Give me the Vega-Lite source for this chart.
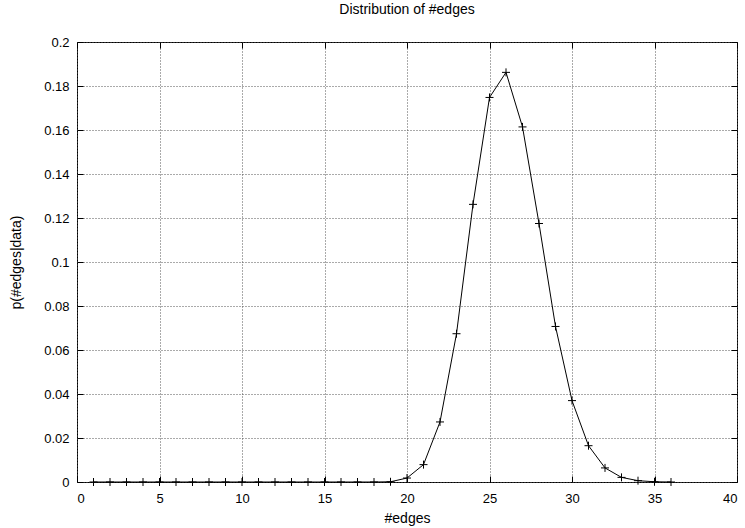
{
  "$schema": "https://vega.github.io/schema/vega-lite/v6.json",
  "width": 660,
  "height": 440,
  "autosize": "none",
  "padding": {"left": 77, "top": 42, "right": 8, "bottom": 46},
  "background": "white",
  "title": {"text": "Distribution of #edges", "fontSize": 14, "fontWeight": "normal", "font": "Liberation Sans", "color": "black", "offset": 19, "anchor": "middle"},
  "config": {
    "view": {"stroke": "black", "strokeWidth": 1},
    "axis": {"labelFont": "Liberation Sans", "titleFont": "Liberation Sans", "labelFontSize": 13, "titleFontSize": 14, "titleFontWeight": "normal", "labelColor": "black", "titleColor": "black", "tickColor": "black", "domain": false, "gridColor": "#555", "gridDash": [1, 2], "gridWidth": 1, "gridOpacity": 1, "tickSize": -6, "tickWidth": 1}
  },
  "data": {"values": [
    {"x": 1, "p": 0}, {"x": 2, "p": 0}, {"x": 3, "p": 0}, {"x": 4, "p": 0}, {"x": 5, "p": 0},
    {"x": 6, "p": 0}, {"x": 7, "p": 0}, {"x": 8, "p": 0}, {"x": 9, "p": 0}, {"x": 10, "p": 0},
    {"x": 11, "p": 0}, {"x": 12, "p": 0}, {"x": 13, "p": 0}, {"x": 14, "p": 0}, {"x": 15, "p": 0},
    {"x": 16, "p": 0}, {"x": 17, "p": 0}, {"x": 18, "p": 0}, {"x": 19, "p": 0.0001}, {"x": 20, "p": 0.0018},
    {"x": 21, "p": 0.0079}, {"x": 22, "p": 0.0273}, {"x": 23, "p": 0.0674}, {"x": 24, "p": 0.1262},
    {"x": 25, "p": 0.1748}, {"x": 26, "p": 0.1862}, {"x": 27, "p": 0.1614}, {"x": 28, "p": 0.1175},
    {"x": 29, "p": 0.0707}, {"x": 30, "p": 0.037}, {"x": 31, "p": 0.0165}, {"x": 32, "p": 0.0064},
    {"x": 33, "p": 0.0021}, {"x": 34, "p": 0.0006}, {"x": 35, "p": 0.0001}, {"x": 36, "p": 0}
  ]},
  "layer": [
    {
      "mark": {"type": "line", "color": "black", "strokeWidth": 1},
      "encoding": {
        "x": {"field": "x", "type": "quantitative", "scale": {"domain": [0, 40], "nice": false},
              "axis": {"orient": "bottom", "title": "#edges", "values": [0, 5, 10, 15, 20, 25, 30, 35, 40], "labelPadding": 16, "titlePadding": 6, "grid": true}},
        "y": {"field": "p", "type": "quantitative", "scale": {"domain": [0, 0.2], "nice": false},
              "axis": {"orient": "left", "title": "p(#edges|data)", "values": [0, 0.02, 0.04, 0.06, 0.08, 0.1, 0.12, 0.14, 0.16, 0.18, 0.2], "format": "~g", "labelPadding": 14, "titlePadding": 20, "grid": true}}
      }
    },
    {
      "mark": {"type": "point", "shape": "M-1,0L1,0M0,-1L0,1", "filled": false, "color": "black", "strokeWidth": 1, "size": 64, "opacity": 1},
      "encoding": {
        "x": {"field": "x", "type": "quantitative",
              "axis": {"orient": "top", "title": null, "labels": false, "grid": false, "values": [0, 5, 10, 15, 20, 25, 30, 35, 40]}},
        "y": {"field": "p", "type": "quantitative",
              "axis": {"orient": "right", "title": null, "labels": false, "grid": false, "values": [0, 0.02, 0.04, 0.06, 0.08, 0.1, 0.12, 0.14, 0.16, 0.18, 0.2]}}
      }
    }
  ],
  "resolve": {"axis": {"x": "independent", "y": "independent"}}
}
